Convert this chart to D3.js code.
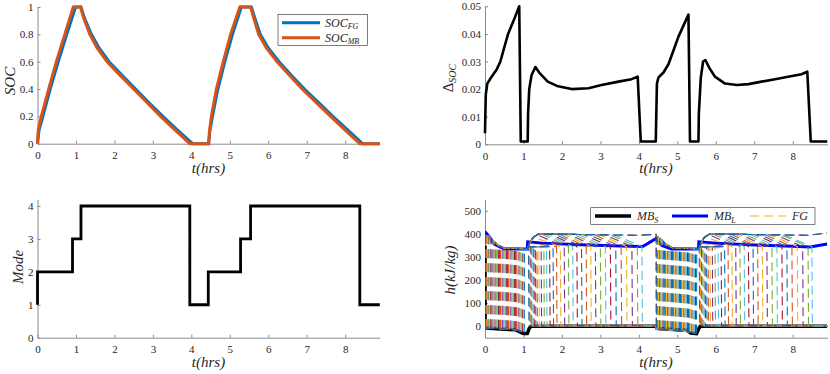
<!DOCTYPE html>
<html>
<head>
<meta charset="utf-8">
<script src="https://cdn.jsdelivr.net/npm/d3@7"></script>
<style>
body { margin: 0; background: #fff; }
</style>
</head>
<body>
<script>
// ---- data ----
var hourTicks = [0, 1, 2, 3, 4, 5, 6, 7, 8];
var socTicks = [0, 0.2, 0.4, 0.6, 0.8, 1];
var dsocTicks = [0, 0.01, 0.02, 0.03, 0.04, 0.05];
var modeTicks = [0, 1, 2, 3, 4];
var hTicks = [0, 100, 200, 300, 400, 500];

var socT_FG = [0, 0.04, 0.14, 0.33, 0.54, 0.76, 0.99, 1.13, 1.22, 1.4, 1.6, 1.86, 2.2, 2.55, 2.9, 3.26, 3.64, 4.03, 4.45, 4.48, 4.55, 4.69, 4.87, 5.07, 5.3, 5.56, 5.65, 5.79, 6.0, 6.28, 6.6, 6.94, 7.31, 7.68, 8.07, 8.45, 8.9];
var socT_MB = [0, 0.02, 0.1, 0.29, 0.49, 0.71, 0.93, 1.12, 1.2, 1.36, 1.55, 1.81, 2.15, 2.5, 2.85, 3.2, 3.58, 3.96, 4.45, 4.47, 4.52, 4.65, 4.83, 5.02, 5.26, 5.54, 5.62, 5.75, 5.95, 6.23, 6.55, 6.88, 7.25, 7.62, 8.0, 8.38, 8.9];
var socV = [0, 0.1, 0.2, 0.4, 0.6, 0.8, 1, 1, 0.92, 0.8, 0.7, 0.6, 0.5, 0.4, 0.3, 0.2, 0.1, 0, 0, 0.09, 0.2, 0.4, 0.6, 0.8, 1, 1, 0.92, 0.8, 0.7, 0.6, 0.5, 0.4, 0.3, 0.2, 0.1, 0, 0];

var dsocT = [0, 0.02, 0.06, 0.15, 0.3, 0.4, 0.5, 0.6, 0.75, 0.89, 0.93, 1.11, 1.12, 1.15, 1.21, 1.31, 1.41, 1.63, 1.9, 2.25, 2.69, 3.03, 3.47, 3.81, 3.97, 4.05, 4.44, 4.47, 4.51, 4.64, 4.77, 4.9, 5.03, 5.16, 5.29, 5.33, 5.55, 5.56, 5.61, 5.67, 5.73, 5.84, 5.98, 6.24, 6.55, 6.85, 7.19, 7.54, 7.88, 8.23, 8.38, 8.47, 8.9];
var dsocV = [0.004, 0.018, 0.022, 0.024, 0.027, 0.030, 0.035, 0.040, 0.045, 0.050, 0.001, 0.001, 0.011, 0.020, 0.025, 0.028, 0.026, 0.0227, 0.021, 0.020, 0.0203, 0.0215, 0.0227, 0.0236, 0.0245, 0.001, 0.001, 0.022, 0.0242, 0.026, 0.029, 0.034, 0.039, 0.043, 0.047, 0.001, 0.001, 0.011, 0.024, 0.030, 0.0305, 0.0275, 0.0245, 0.022, 0.0215, 0.0218, 0.0227, 0.0236, 0.0245, 0.0254, 0.0263, 0.001, 0.001];

var modeT = [0, 0, 0.91, 1.13, 3.96, 4.44, 5.28, 5.54, 8.38, 8.9];
var modeV = [1, 2, 3, 4, 1, 2, 3, 4, 1, 1];

var mbST = [0, 0.003, 0.05, 0.4, 0.8, 0.95, 1.0, 1.1, 1.15, 1.2, 4.45, 4.5, 4.9, 5.25, 5.35, 5.5, 5.56, 5.6, 8.9];
var mbSH = [350, 0, -8, -12, -16, -28, -32, -32, -10, 0, 0, -10, -14, -18, -30, -32, -10, 0, 0];
var mbLT = [0, 0.1, 0.25, 0.5, 1.1, 1.11, 1.5, 2.5, 3.5, 4.1, 4.45, 4.6, 4.85, 5.55, 5.56, 6.0, 7.0, 8.0, 8.45, 8.9];
var mbLH = [410, 390, 355, 335, 335, 365, 360, 353, 348, 345, 380, 350, 334, 334, 365, 360, 352, 346, 343, 356];

// FG nodes: melt time in each charge, solidification time in each discharge (null = still liquid)
var fgMelt1 = [0.01, 0.03, 0.05, 0.08, 0.1, 0.13, 0.15, 0.18, 0.21, 0.23, 0.26, 0.29, 0.32, 0.35, 0.37, 0.4, 0.43, 0.46, 0.49, 0.52, 0.55, 0.58, 0.61, 0.64, 0.67, 0.7, 0.73, 0.76, 0.79, 0.82, 0.85, 0.88, 0.91, 0.95, 0.98, 1.02];
var fgDrop1 = [1.13, 1.15, 1.17, 1.19, 1.21, 1.24, 1.27, 1.31, 1.35, 1.4, 1.46, 1.53, 1.6, 1.68, 1.77, 1.86, 1.96, 2.06, 2.17, 2.28, 2.39, 2.51, 2.63, 2.75, 2.87, 3.0, 3.13, 3.26, 3.4, 3.54, 3.68, 3.82, 3.96, 4.08, null, null];
var fgMelt2 = [4.47, 4.49, 4.51, 4.54, 4.57, 4.6, 4.63, 4.66, 4.69, 4.72, 4.75, 4.78, 4.81, 4.84, 4.87, 4.9, 4.93, 4.96, 4.99, 5.02, 5.05, 5.08, 5.11, 5.14, 5.17, 5.2, 5.23, 5.26, 5.29, 5.32, 5.35, 5.38, 5.41, 5.44, 5.47, 5.5];
var fgDrop2 = [5.57, 5.59, 5.61, 5.63, 5.66, 5.69, 5.72, 5.76, 5.8, 5.85, 5.91, 5.98, 6.06, 6.14, 6.23, 6.32, 6.42, 6.52, 6.63, 6.74, 6.85, 6.97, 7.09, 7.21, 7.33, 7.46, 7.59, 7.72, 7.85, 7.98, 8.12, 8.26, 8.4, 8.5, null, null];
// envelope curves the FG nodes follow (solid, liquid after melting, liquid during discharge)
var fgColdT1 = [0, 0.5, 0.85, 1.0, 1.1], fgColdH1 = [-8, -12, -18, -28, -30];
var fgWarmT1 = [0, 0.08, 0.2, 0.35, 0.5, 1.1], fgWarmH1 = [406, 395, 372, 350, 338, 336];
var fgHotT1 = [1.1, 1.16, 1.25, 1.4, 4.0, 4.45], fgHotH1 = [336, 360, 385, 400, 394, 398];
var fgColdT2 = [4.45, 4.9, 5.3, 5.45, 5.56], fgColdH2 = [-12, -18, -24, -32, -32];
var fgWarmT2 = [4.45, 4.55, 4.7, 4.9, 5.56], fgWarmH2 = [398, 382, 355, 338, 336];
var fgHotT2 = [5.56, 5.62, 5.7, 5.85, 8.4, 8.9], fgHotH2 = [336, 360, 385, 400, 394, 404];
var fgFreeze = 345, fgSolid = 0;

var fgColors = ["#0072BD", "#D95319", "#EDB120", "#7E2F8E", "#77AC30", "#4DBEEE", "#A2142F"];

// ---- drawing ----
var serif = "'Liberation Serif'";
var svg = d3.select("body").append("svg").attr("width", 830).attr("height", 374)
  .style("font-family", serif);

function label(g, text) { return g.append("text").style("font-family", serif).attr("fill", "#262626").text(text || null); }

function panel(o) {
  var x = d3.scaleLinear().domain([0, 8.9]).range([o.left, o.left + 342.3]);
  var y = d3.scaleLinear().domain(o.yDomain).range([o.bottom, o.top]);
  var g = svg.append("g");
  var fmt = function(d) { return String(d); };
  var xa = g.append("g").attr("transform", "translate(0," + o.bottom + ")")
    .call(d3.axisBottom(x).tickValues(hourTicks).tickSizeInner(-3).tickSizeOuter(0).tickPadding(8).tickFormat(fmt));
  var ya = g.append("g").attr("transform", "translate(" + o.left + ",0)")
    .call(d3.axisLeft(y).tickValues(o.ticks).tickSizeInner(-3).tickSizeOuter(0).tickPadding(4).tickFormat(fmt));
  [xa, ya].forEach(function(a) {
    a.attr("font-family", null).attr("font-size", null);
    a.selectAll("path, line").attr("stroke", "#8a8a8a");
    a.selectAll("text").attr("fill", "#262626").style("font-family", serif).style("font-size", "11px");
  });
  label(g, "t(hrs)").attr("x", o.left + 171).attr("y", o.bottom + 29)
    .attr("text-anchor", "middle").style("font-size", "15px").style("font-style", "italic");
  return { g: g, x: x, y: y };
}

function line(p, T, V, curve) {
  return d3.line().x(function(d, i) { return p.x(T[i]); }).y(function(d) { return p.y(d); })
    .curve(curve || d3.curveLinear)(V);
}

// panel 1: SOC
var p1 = panel({ left: 37.5, top: 7, bottom: 143.7, yDomain: [0, 1], ticks: socTicks });
p1.g.append("path").attr("d", line(p1, socT_FG, socV)).attr("fill", "none").attr("stroke", "#0072BD").attr("stroke-width", 3);
p1.g.append("path").attr("d", line(p1, socT_MB, socV)).attr("fill", "none").attr("stroke", "#D95319").attr("stroke-width", 3);
label(p1.g, "SOC").attr("transform", "translate(15,81) rotate(-90)").attr("text-anchor", "middle")
  .style("font-size", "15px").style("font-style", "italic");
var lg1 = p1.g.append("g");
lg1.append("rect").attr("x", 278).attr("y", 14.3).attr("width", 89.4).attr("height", 31).attr("fill", "#fff").attr("stroke", "#262626").attr("stroke-width", 0.6);
[["#0072BD", "FG", 22.7], ["#D95319", "MB", 37.7]].forEach(function(e) {
  lg1.append("line").attr("x1", 282).attr("x2", 320).attr("y1", e[2]).attr("y2", e[2]).attr("stroke", e[0]).attr("stroke-width", 3);
  var t = label(lg1).attr("x", 325).attr("y", e[2] + 4).style("font-size", "12px").style("font-style", "italic");
  t.append("tspan").text("SOC");
  t.append("tspan").attr("dy", 2.5).style("font-size", "8px").text(e[1]);
});

// panel 2: delta SOC
var p2 = panel({ left: 485, top: 6.3, bottom: 144.3, yDomain: [0, 0.05], ticks: dsocTicks });
p2.g.append("path").attr("d", line(p2, dsocT, dsocV)).attr("fill", "none").attr("stroke", "#000").attr("stroke-width", 2.6).attr("stroke-linejoin", "round");
var dl = label(p2.g).attr("transform", "translate(453,78) rotate(-90)").attr("text-anchor", "middle").style("font-size", "15px");
dl.append("tspan").text("\u0394");
dl.append("tspan").attr("dy", 3).style("font-size", "10px").style("font-style", "italic").text("SOC");

// panel 3: mode
var p3 = panel({ left: 37.5, top: 199.4, bottom: 337.7, yDomain: [0, 4.2], ticks: modeTicks });
p3.g.append("path").attr("d", line(p3, modeT, modeV, d3.curveStepAfter)).attr("fill", "none").attr("stroke", "#000").attr("stroke-width", 2.8);
label(p3.g, "Mode").attr("transform", "translate(23,267) rotate(-90)").attr("text-anchor", "middle")
  .style("font-size", "15px").style("font-style", "italic");

// panel 4: enthalpy
var p4 = panel({ left: 485, top: 199.3, bottom: 337.7, yDomain: [-50, 550], ticks: hTicks });
p4.g.append("clipPath").attr("id", "clip4").append("rect").attr("x", 485).attr("y", 199.3).attr("width", 342.3).attr("height", 138.4);
var body4 = p4.g.append("g").attr("clip-path", "url(#clip4)");
body4.append("path").attr("d", line(p4, mbST, mbSH)).attr("fill", "none").attr("stroke", "#000").attr("stroke-width", 3.5);
body4.append("path").attr("d", line(p4, mbLT, mbLH)).attr("fill", "none").attr("stroke", "#0000ff").attr("stroke-width", 3);

function lerp(T, Hs) { return d3.scaleLinear().domain(T).range(Hs).clamp(true); }
function pts(T, Hs, a, b) {
  var r = [];
  T.forEach(function(t, k) { if (t > a && t < b) r.push([t, Hs[k]]); });
  return r;
}
var cold1 = lerp(fgColdT1, fgColdH1), warm1 = lerp(fgWarmT1, fgWarmH1), hot1 = lerp(fgHotT1, fgHotH1);
var cold2 = lerp(fgColdT2, fgColdH2), warm2 = lerp(fgWarmT2, fgWarmH2), hot2 = lerp(fgHotT2, fgHotH2);

function discharge(ts, T, Hs, f, tEnd) {
  var t0 = T[0];
  if (ts === null) return [[t0, Hs[0]]].concat(pts(T, Hs, t0, tEnd), [[tEnd, f(tEnd)]]);
  var knee = Math.max(t0 + 0.02, ts - 0.7);
  return [[t0, Hs[0]]].concat(pts(T, Hs, t0, knee), [[knee, f(knee)], [ts, fgFreeze], [ts + 0.012, fgSolid + 2], [tEnd, fgSolid]]);
}

var fgSegs = [];
fgMelt1.forEach(function(tm1, i) {
  var ts1 = fgDrop1[i], tm2 = fgMelt2[i], ts2 = fgDrop2[i];
  var a = [[0, cold1(0)]].concat(pts(fgColdT1, fgColdH1, 0, tm1), [[tm1, cold1(tm1)]]);
  var b = [[tm1, cold1(tm1)], [tm1 + 0.006, warm1(tm1)]].concat(pts(fgWarmT1, fgWarmH1, tm1, 1.1));
  b = b.concat(discharge(ts1, fgHotT1, fgHotH1, hot1, 4.45));
  b = b.concat([[4.455, cold2(4.455)]], pts(fgColdT2, fgColdH2, 4.455, tm2), [[tm2, cold2(tm2)]]);
  var c = [[tm2, cold2(tm2)], [tm2 + 0.006, warm2(tm2)]].concat(pts(fgWarmT2, fgWarmH2, tm2, 5.56));
  c = c.concat(discharge(ts2, fgHotT2, fgHotH2, hot2, 8.9));
  [a, b, c].forEach(function(s) { fgSegs.push({ pts: s, color: fgColors[i % 7] }); });
});
var fgLine = d3.line().x(function(d) { return p4.x(d[0]); }).y(function(d) { return p4.y(d[1]); });
body4.selectAll("path.fg").data(fgSegs).enter().append("path").attr("class", "fg")
  .attr("d", function(d) { return fgLine(d.pts); })
  .attr("fill", "none").attr("stroke", function(d) { return d.color; })
  .attr("stroke-width", 1.1).attr("stroke-dasharray", "9,5");

label(p4.g, "h(kJ/kg)").attr("transform", "translate(455,270) rotate(-90)").attr("text-anchor", "middle")
  .style("font-size", "15px").style("font-style", "italic");

var lg4 = p4.g.append("g");
lg4.append("rect").attr("x", 590.7).attr("y", 207.7).attr("width", 224.3).attr("height", 16.6).attr("fill", "#fff").attr("stroke", "#262626").attr("stroke-width", 0.6);
[{ c: "#000", w: 3.5, x: 595, lab: "MB", sub: "S" }, { c: "#0000ff", w: 3, x: 672, lab: "MB", sub: "L" }, { c: "#EDB120", w: 1, x: 750, lab: "FG", sub: "", dash: "9,5" }].forEach(function(e) {
  lg4.append("line").attr("x1", e.x).attr("x2", e.x + 36).attr("y1", 216).attr("y2", 216)
    .attr("stroke", e.c).attr("stroke-width", e.w).attr("stroke-dasharray", e.dash || null);
  var t = label(lg4).attr("x", e.x + 42).attr("y", 220).style("font-size", "12px").style("font-style", "italic");
  t.append("tspan").text(e.lab);
  if (e.sub) t.append("tspan").attr("dy", 2.5).style("font-size", "8px").text(e.sub);
});
</script>
</body>
</html>
